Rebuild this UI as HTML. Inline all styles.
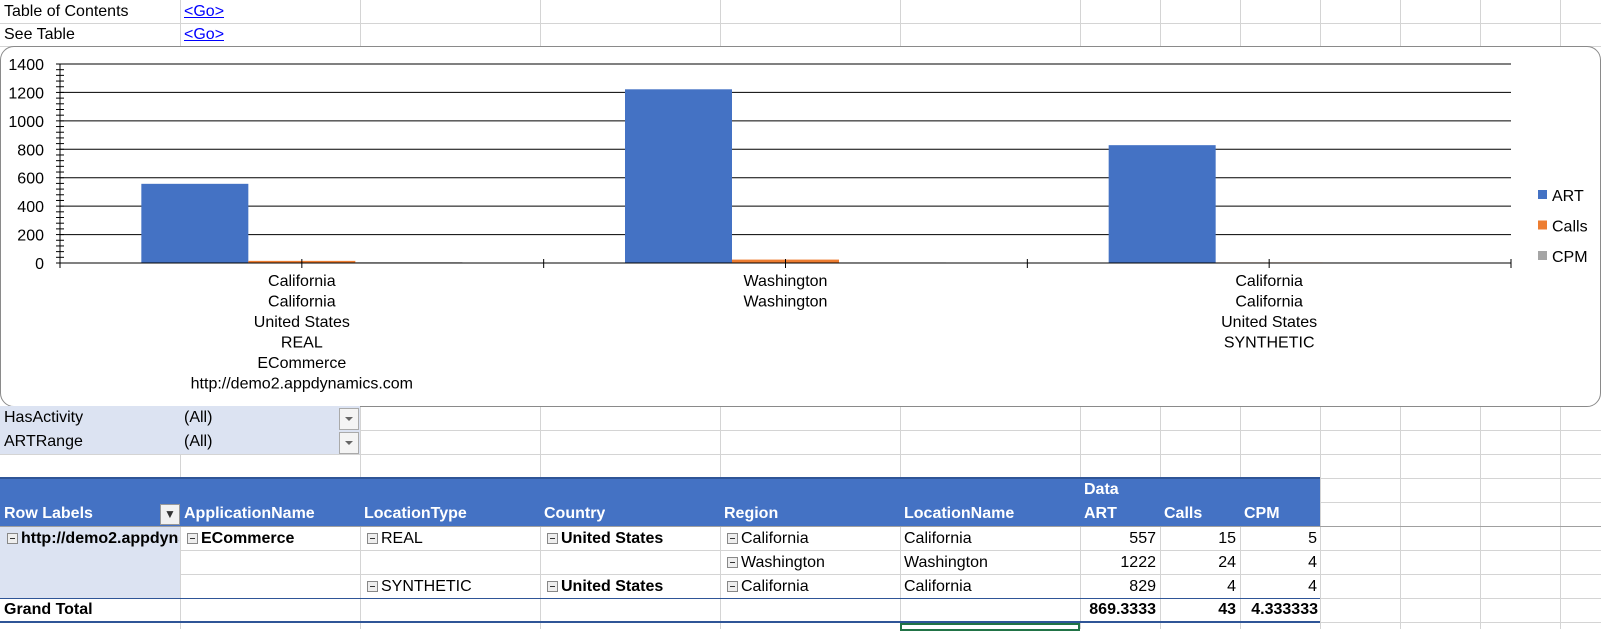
<!DOCTYPE html>
<html><head><meta charset="utf-8">
<style>
body{margin:0;width:1601px;height:629px;overflow:hidden;background:#fff;font-family:"Liberation Sans",sans-serif;font-size:16px;color:#000;position:relative}
.a{position:absolute}
.vl{position:absolute;top:0;width:1px;height:629px;background:#d4d4d4}
.hl{position:absolute;left:0;height:1px;width:1601px;background:#d4d4d4}
.c{position:absolute;height:24px;line-height:24px;white-space:nowrap;overflow:hidden}
.r{text-align:right}
.b{font-weight:bold}
.hd{color:#fff;font-weight:bold}
.box{display:inline-block;width:9px;height:9px;border:1px solid #888;background:#eee;position:relative;margin-right:3px;vertical-align:-1px}
.box:after{content:"";position:absolute;left:2px;top:4px;width:5px;height:1px;background:#333}
.dd{position:absolute;width:18px;height:20px;border:1px solid #aaa;background:#f4f4f4}
.dd:after{content:"";position:absolute;left:5px;top:8px;border-left:4px solid transparent;border-right:4px solid transparent;border-top:4px solid #666}
a{color:#0000ff}
</style></head><body>
<div id="grid"></div>

<div class="c" style="left:4px;top:0">Table of Contents</div>
<div class="c" style="left:184px;top:0"><a href="#">&lt;Go&gt;</a></div>
<div class="c" style="left:4px;top:23px">See Table</div>
<div class="c" style="left:184px;top:23px"><a href="#">&lt;Go&gt;</a></div>

<div class="a" style="left:0;top:46px;width:1599px;height:359px;border:1px solid #8a8a8a;border-radius:14px;background:#fff">
<svg id="chart" width="1599" height="359" style="position:absolute;left:0;top:0"></svg>
</div>

<div class="a" style="left:0;top:406px;width:360px;height:48px;background:#dce3f2"></div>
<div class="c" style="left:4px;top:406px">HasActivity</div>
<div class="c" style="left:184px;top:406px">(All)</div>
<div class="dd" style="left:339px;top:408px"></div>
<div class="c" style="left:4px;top:430px">ARTRange</div>
<div class="c" style="left:184px;top:430px">(All)</div>
<div class="dd" style="left:339px;top:432px"></div>

<div class="a" style="left:0;top:477px;width:1320px;height:49px;background:#4472c4;border-top:2px solid #2f5597;box-sizing:border-box"></div>
<div class="a" style="left:0;top:526px;width:1601px;height:1px;background:#a0a0a0"></div>
<div class="c hd" style="left:1084px;top:478px">Data</div>
<div class="c hd" style="left:4px;top:502px">Row Labels</div>
<div class="a" style="left:160px;top:504px;width:18px;height:19px;background:#f2f2f2;border:1px solid #999;text-align:center;line-height:19px;font-size:12px;color:#333">▼</div>
<div class="c hd" style="left:184px;top:502px">ApplicationName</div>
<div class="c hd" style="left:364px;top:502px">LocationType</div>
<div class="c hd" style="left:544px;top:502px">Country</div>
<div class="c hd" style="left:724px;top:502px">Region</div>
<div class="c hd" style="left:904px;top:502px">LocationName</div>
<div class="c hd" style="left:1084px;top:502px">ART</div>
<div class="c hd" style="left:1164px;top:502px">Calls</div>
<div class="c hd" style="left:1244px;top:502px">CPM</div>

<div class="a" style="left:0;top:527px;width:180px;height:71px;background:#dce3f2"></div>
<div class="c b" style="left:7px;top:527px;width:172px"><span class="box"></span>http://demo2.appdynamics.com</div>
<div class="c b" style="left:187px;top:527px"><span class="box"></span>ECommerce</div>
<div class="c" style="left:367px;top:527px"><span class="box"></span>REAL</div>
<div class="c b" style="left:547px;top:527px"><span class="box"></span>United States</div>
<div class="c" style="left:727px;top:527px"><span class="box"></span>California</div>
<div class="c" style="left:904px;top:527px">California</div>
<div class="c r" style="left:1080px;top:527px;width:76px">557</div>
<div class="c r" style="left:1160px;top:527px;width:76px">15</div>
<div class="c r" style="left:1240px;top:527px;width:77px">5</div>

<div class="c" style="left:727px;top:551px"><span class="box"></span>Washington</div>
<div class="c" style="left:904px;top:551px">Washington</div>
<div class="c r" style="left:1080px;top:551px;width:76px">1222</div>
<div class="c r" style="left:1160px;top:551px;width:76px">24</div>
<div class="c r" style="left:1240px;top:551px;width:77px">4</div>

<div class="c" style="left:367px;top:575px"><span class="box"></span>SYNTHETIC</div>
<div class="c b" style="left:547px;top:575px"><span class="box"></span>United States</div>
<div class="c" style="left:727px;top:575px"><span class="box"></span>California</div>
<div class="c" style="left:904px;top:575px">California</div>
<div class="c r" style="left:1080px;top:575px;width:76px">829</div>
<div class="c r" style="left:1160px;top:575px;width:76px">4</div>
<div class="c r" style="left:1240px;top:575px;width:77px">4</div>

<div class="a" style="left:0;top:598px;width:1320px;height:1px;background:#2f5597"></div>
<div class="c b" style="left:4px;top:598px">Grand Total</div>
<div class="c r b" style="left:1080px;top:598px;width:76px">869.3333</div>
<div class="c r b" style="left:1160px;top:598px;width:76px">43</div>
<div class="c r b" style="left:1240px;top:598px;width:78px">4.333333</div>
<div class="a" style="left:0;top:621px;width:1320px;height:2px;background:#2f5597"></div>
<div class="a" style="left:900px;top:623px;width:180px;height:8px;border:2px solid #217346;box-sizing:border-box"></div>

<script>
const categories=[["California","California","United States","REAL","ECommerce","http://demo2.appdynamics.com"],["Washington","Washington"],["California","California","United States","SYNTHETIC"]];
const seriesNames=["ART","Calls","CPM"];
const artValues=[557,1222,829];
const callsValues=[15,24,4];
const cpmValues=[5,4,4];
const yTicks=[0,200,400,600,800,1000,1200,1400];
const colors=["#4472c4","#ed7d31","#a5a5a5"];

const g=document.getElementById('grid');
[180,360,540,720,900,1080,1160,1240,1320,1400,1480,1560].forEach(x=>{const d=document.createElement('div');d.className='vl';d.style.left=x+'px';

g.appendChild(d);});
[23,46,430,454,478,502,550,574,598,622].forEach(y=>{const d=document.createElement('div');d.className='hl';d.style.top=y+'px';

g.appendChild(d);});

const svg=document.getElementById('chart');const NS='http://www.w3.org/2000/svg';
const ox=-1,oy=-47;
const x0=60+ox,x1=1511+ox,yB=263+oy,yT=64+oy,yMax=1400;
const ys=v=>yB-(v/yMax)*(yB-yT);
const catW=(x1-x0)/categories.length;
const cx=i=>x0+catW*(i+0.5);
const barW=107;
function el(t,a,txt){const e=document.createElementNS(NS,t);for(const k in a)e.setAttribute(k,a[k]);if(txt!=null)e.textContent=txt;svg.appendChild(e);return e;}
yTicks.forEach(v=>{if(v>0){const l=el('line',{x1:x0,x2:x1,y1:ys(v),y2:ys(v),stroke:'#000','stroke-width':1});

}
const t=el('text',{x:x0-16,y:ys(v)+6,'text-anchor':'end','font-size':16,'font-family':'Liberation Sans'},v);

});
for(let v=0;v<=yMax;v+=40){el('line',{x1:x0-4,x2:x0+4,y1:ys(v),y2:ys(v),stroke:'#000'});}
el('line',{x1:x0,x2:x0,y1:yT,y2:yB+5,stroke:'#000'});
const series=[artValues,callsValues,cpmValues];
series.forEach((vals,s)=>vals.forEach((v,i)=>{const bx=cx(i)-1.5*barW+s*barW;
const r=el('rect',{x:bx,y:ys(v),width:barW,height:yB-ys(v),fill:colors[s]});

}));
el('line',{x1:x0,x2:x1,y1:yB,y2:yB,stroke:'#000'});
for(let i=0;i<=categories.length;i++){el('line',{x1:x0+catW*i,x2:x0+catW*i,y1:yB-4,y2:yB+5,stroke:'#000'});}
categories.forEach((lines,i)=>{el('line',{x1:cx(i),x2:cx(i),y1:yB-4,y2:yB+5,stroke:'#000'});
lines.forEach((s,j)=>{const t=el('text',{x:cx(i),y:yB+23+j*20.5,'text-anchor':'middle','font-size':16,'font-family':'Liberation Sans'},s);

});});
seriesNames.forEach((n,s)=>{const ly=195+oy+s*30.5;
const r=el('rect',{x:1538+ox,y:ly-5,width:9,height:9,fill:colors[s]});


const t=el('text',{x:1552+ox,y:ly+6,'font-size':16,'font-family':'Liberation Sans'},n);

});
</script>
</body></html>
